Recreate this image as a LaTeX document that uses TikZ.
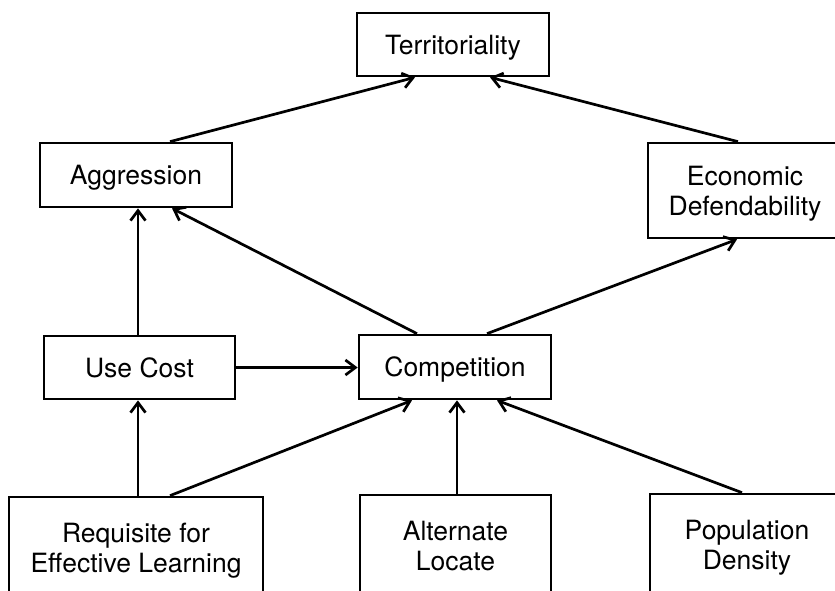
\documentclass[tikz,border=0pt]{standalone}
\usepackage{fontspec}
\setmainfont{TeX Gyre Heros}
\usetikzlibrary{arrows.meta}
\begin{document}
\begin{tikzpicture}[x=1pt,y=-1pt,
  box/.style={draw, line width=2.7pt, minimum width=192pt, minimum height=63pt,
    align=center, inner sep=0pt, text depth=0pt, font=\fontsize{26.5}{30}\selectfont},
  conn/.style={line width=2.7pt, -{Straight Barb[length=10pt,width=15pt]}}]
\useasboundingbox (0,0) rectangle (835,590);
\clip (0,0) rectangle (835,590);
\node[box] (ter) at (453,44.5) {Territoriality};
\node[box, minimum height=64pt] (agg) at (136,175) {Aggression};
\node[box, minimum height=95pt, minimum width=194pt] (eco) at (745,190.5) {Economic\\Defendability};
\node[box, minimum width=191pt] (uc) at (139.5,367.5) {Use Cost};
\node[box, minimum height=64pt] (comp) at (455,367) {Competition};
\node[box, minimum width=254pt, minimum height=102pt] (req) at (136,548) {Requisite for\\Effective Learning};
\node[box, minimum width=191pt, minimum height=102pt] (alt) at (455.5,546) {Alternate\\Locate};
\node[box, minimum width=194pt, minimum height=102pt] (pop) at (747,545) {Population\\Density};
% connectors
\draw[conn] ([xshift=34pt]agg.north) -- ([xshift=-38pt]ter.south);
\draw[conn] ([xshift=-7pt]eco.north) -- ([xshift=37pt]ter.south);
\draw[conn] ([xshift=-38pt]comp.north) -- ([xshift=36pt]agg.south);
\draw[conn] ([xshift=32pt]comp.north) -- ([xshift=-8pt]eco.south);
\draw[conn] ([xshift=-1.5pt]uc.north) -- ([xshift=-1.5pt]uc.north |- agg.south);
\draw[conn] (uc.east) -- (uc.east -| comp.west);
\draw[conn] ([xshift=-1.5pt]uc.south |- req.north) -- ([xshift=-1.5pt]uc.south);
\draw[conn] ([xshift=34pt]req.north) -- ([xshift=-43pt]comp.south);
\draw[conn] ([xshift=1.5pt]alt.north) -- ([xshift=1.5pt]alt.north |- comp.south);
\draw[conn] ([xshift=-5pt]pop.north) -- ([xshift=42pt]comp.south);
\end{tikzpicture}
\end{document}
